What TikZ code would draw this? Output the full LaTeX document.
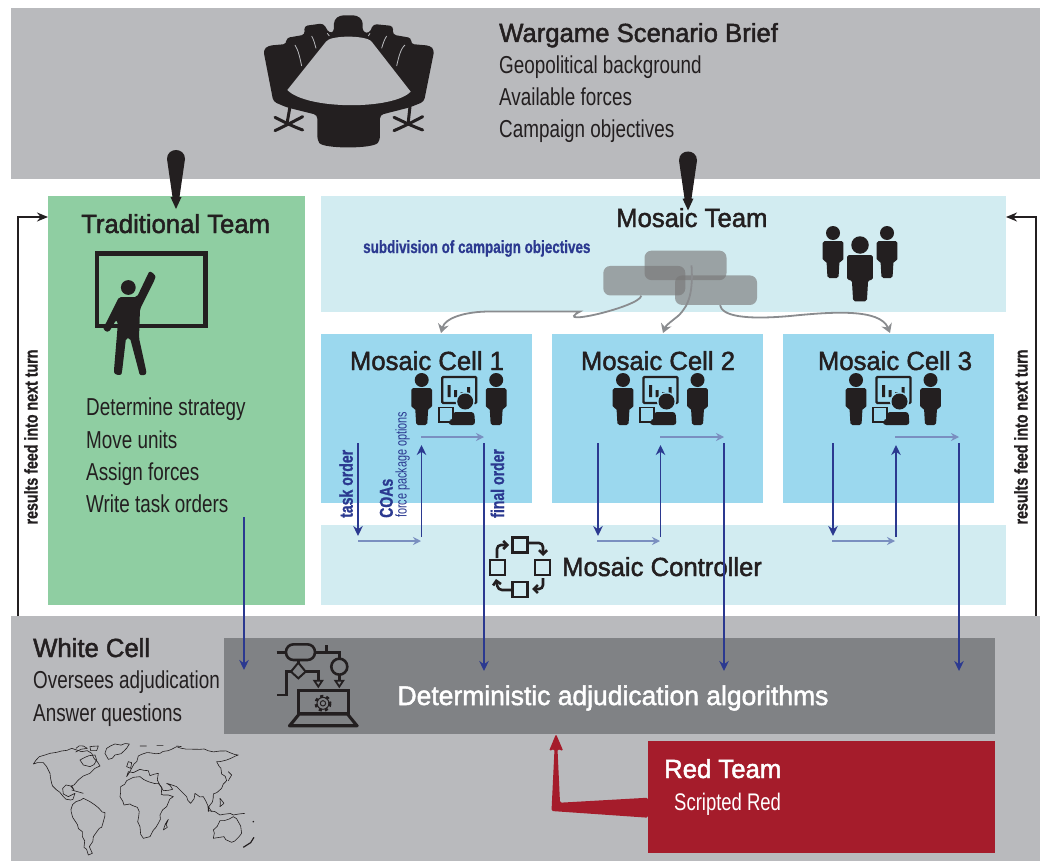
\documentclass[tikz,border=0pt]{standalone}
\usepackage{fontspec}
\usetikzlibrary{arrows.meta,shapes.geometric,decorations.pathmorphing}
\setmainfont{Liberation Sans}
\newfontfamily\headfont[FakeBold=1.8,FakeStretch=0.98]{Liberation Sans}
\newfontfamily\bodyfont[FakeStretch=0.77]{Liberation Sans}
\newfontfamily\condbold[FakeStretch=0.76,FakeBold=0.8]{Liberation Sans Bold}
\newfontfamily\condside[FakeStretch=0.77,FakeBold=0.8]{Liberation Sans Bold}
\newfontfamily\condthin[FakeStretch=0.7]{Liberation Sans}
\definecolor{topgrey}{HTML}{B9BABD}
\definecolor{tradgreen}{HTML}{8FCEA2}
\definecolor{palecyan}{HTML}{D2ECF1}
\definecolor{cellblue}{HTML}{9BD8EE}
\definecolor{darkgrey}{HTML}{808285}
\definecolor{redteam}{HTML}{A51C2B}
\definecolor{navy}{HTML}{2B3990}
\definecolor{lightnavy}{HTML}{7A8FC0}
\definecolor{inkblack}{HTML}{231F20}
\definecolor{connector}{HTML}{8A8C8F}
\definecolor{teamgrey}{HTML}{787676}
\tikzset{
  region/.style={fill=#1,draw=none},
  headtext/.style={font=\headfont\fontsize{26.2}{28}\selectfont,text=inkblack,inner sep=0pt,anchor=base west},
  bodytext/.style={font=\bodyfont\fontsize{24.5}{27}\selectfont,text=inkblack,inner sep=0pt,anchor=base west},
  sidelabel/.style={font=\condside\fontsize{18.5}{20}\selectfont,text=inkblack,inner sep=0pt,rotate=90},
  ordertext/.style={font=\condbold\fontsize{18.5}{20}\selectfont,text=navy,inner sep=0pt,rotate=90,anchor=base west},
  thintext/.style={font=\condthin\fontsize{15.5}{18}\selectfont,text=navy,inner sep=0pt,rotate=90,anchor=base west},
  order/.style={draw=navy,line width=1.8pt,-{Stealth[length=10pt,width=9.5pt]}},
  flow/.style={draw=lightnavy,line width=1.8pt,-{Stealth[length=8pt,width=8pt]}},
  feed/.style={draw=inkblack,line width=1.6pt,-{Stealth[length=11pt,width=9pt]}},
  split/.style={draw=connector,line width=1.8pt,-{Stealth[length=9pt,width=11pt,inset=3pt]}},
  team/.style={rounded corners=7pt,fill=teamgrey,fill opacity=.62,draw=none},
  personpic/.pic={
    \fill[inkblack] (0,0) circle (7);
    \fill[inkblack,rounded corners=1.8pt] (-10.3,8) -- (10.3,8) -- (10.3,28) -- (6.5,28) -- (5.5,45) -- (-5.5,45) -- (-6.5,28) -- (-10.3,28) -- cycle;
  },
  cellicon/.pic={
    \pic at (0,0) {personpic};
    \pic at (74.5,0) {personpic};
    \draw[inkblack,line width=2.2pt,rounded corners=1pt] (20.5,-3) rectangle (54.5,23);
    \fill[inkblack] (26,5) rectangle (29,17) (32.5,10) rectangle (35.5,17) (39,12) rectangle (42,17) (45.5,7) rectangle (48.5,17);
    \fill[cellblue] (43.5,21.5) circle (9.6);
    \fill[inkblack] (43.5,21.5) circle (8);
    \draw[inkblack,line width=1.6pt,fill=cellblue] (17,27.5) rectangle (31,42);
    \fill[inkblack,rounded corners=3pt] (31,32) -- (52.5,32) -- (53.5,45) -- (27,45) -- (27,40) -- (31,40) -- cycle;
  },
  coast/.style={decorate,decoration={random steps,segment length=5pt,amplitude=1.6pt}},
}
\pgfmathsetseed{7}
\begin{document}
\begin{tikzpicture}[x=1pt,y=-1pt]
\useasboundingbox (0,0) rectangle (1040,861);
\fill[white] (0,0) rectangle (1040,861);

% regions
\fill[region=topgrey] (11,8) rectangle (1040,179);
\fill[region=topgrey] (11,616) rectangle (1040,861);
\fill[region=tradgreen] (48,196) rectangle (305,605);
\fill[region=palecyan] (321,196) rectangle (1006,312);
\fill[region=palecyan] (321,525) rectangle (1006,605);
\fill[region=cellblue] (321,334) rectangle (532,503);
\fill[region=cellblue] (552,334) rectangle (763,503);
\fill[region=cellblue] (783,334) rectangle (994,503);
\fill[region=darkgrey] (224,638) rectangle (995,734);
\fill[region=redteam] (648,741) rectangle (995,853);

% named anchors
\coordinate (c1n) at (441,333);
\coordinate (c2n) at (663,333);
\coordinate (c3n) at (890,333);
\coordinate (leftStart) at (18,616);
\coordinate (leftEnd) at (48,217);
\coordinate (rightStart) at (1036,616);
\coordinate (rightEnd) at (1006,217);

% conference table icon
\begin{scope}[shift={(240,0)},x=0.3333pt,y=-0.3333pt]
  \fill[inkblack,rounded corners=3.5pt] (100,305) -- (70,150) -- (85,137) -- (140,132) -- (138,114) -- (195,104) -- (192,78) -- (250,70) -- (268,100) -- (282,96) -- (282,60) -- (300,46) -- (350,46) -- (368,60) -- (368,96) -- (388,100) -- (400,72) -- (460,78) -- (458,104) -- (515,114) -- (512,132) -- (570,137) -- (583,150) -- (552,305) -- (510,322) -- (420,345) -- (420,420) .. controls (400,447) and (250,447) .. (232,420) -- (232,345) -- (140,322) -- cycle;
  \fill[topgrey] (142,270) -- (258,125) .. controls (270,105) and (380,105) .. (395,125) -- (512,275) .. controls (460,330) and (200,330) .. (142,270) -- cycle;
  \draw[topgrey,line width=.8pt] (165,135) .. controls (175,150) and (180,175) .. (185,198);
  \draw[topgrey,line width=.8pt] (215,108) .. controls (222,120) and (225,135) .. (228,145);
  \draw[topgrey,line width=.8pt] (262,100) -- (268,108);
  \draw[topgrey,line width=.8pt] (495,135) .. controls (482,145) and (475,175) .. (470,198);
  \draw[topgrey,line width=.8pt] (440,108) .. controls (432,120) and (428,135) .. (425,145);
  \draw[topgrey,line width=.8pt] (390,100) -- (385,108);
  \begin{scope}[inkblack,line width=3pt,line cap=round]
    \draw (150,320) -- (142,365);
    \draw (105,352) .. controls (130,365) and (160,380) .. (188,390);
    \draw (105,392) .. controls (130,380) and (160,365) .. (188,350);
    \draw (510,320) -- (505,365);
    \draw (462,352) .. controls (490,365) and (520,380) .. (548,390);
    \draw (462,392) .. controls (490,380) and (520,365) .. (548,350);
  \end{scope}
\end{scope}

% top text
\node[headtext] (scen) at (499,42) {Wargame Scenario Brief};
\node[bodytext] (geo) at (499,74) {Geopolitical background};
\node[bodytext] (forces) at (499,106) {Available forces};
\node[bodytext] (objs) at (499,138) {Campaign objectives};

% teardrop arrows
\foreach \cx/\dy in {176/0,688/1.5}{
  \fill[inkblack,yshift=-\dy pt] (\cx-9,159) .. controls (\cx-9,147) and (\cx+9,147) .. (\cx+9,159) -- (\cx+3.5,197) -- (\cx+5.5,197) -- (\cx,209) -- (\cx-5.5,197) -- (\cx-3.5,197) -- cycle;
}

% traditional team
\node[headtext] (trad) at (81,233) {Traditional Team};
\draw[inkblack,line width=4.6pt] (97,253.5) rectangle (205.5,326);
\begin{scope}[inkblack]
  \fill (128.3,287.5) circle (7.4);
  \fill[rounded corners=2pt] (119,297) -- (137,297) -- (148,274) .. controls (150,270) and (156,275) .. (155,279) -- (140,309) -- (139,338) -- (146,370) .. controls (147,376) and (140,376) .. (139,372) -- (130,338) -- (126,338) -- (122,372) .. controls (121,376) and (114,375) .. (114,370) -- (118,322) -- (116,320) -- (111,329) .. controls (107,334) and (102,329) .. (105,325) -- cycle;
\end{scope}
\node[bodytext] (t1) at (86,415) {Determine strategy};
\node[bodytext] (t2) at (86,448) {Move units};
\node[bodytext] (t3) at (86,480) {Assign forces};
\node[bodytext] (t4) at (86,512) {Write task orders};

% mosaic team
\node[headtext] (mteam) at (616,227) {Mosaic Team};
\node[font=\condbold\fontsize{17.7}{19}\selectfont,text=navy,inner sep=0pt,anchor=base west] (subdiv) at (363,253) {subdivision of campaign objectives};
\pic at (833,233) {personpic};
\pic[scale=1.25] at (860,245) {personpic};
\pic at (887,233) {personpic};
\node[team,minimum width=82pt,minimum height=29.5pt,inner sep=0] (boxA) at (644.3,280.7) {};
\node[team,minimum width=82pt,minimum height=29.5pt,inner sep=0] (boxB) at (685.5,265.4) {};
\node[team,minimum width=82pt,minimum height=29.5pt,inner sep=0] (boxC) at (716,290.2) {};
\draw[split] (boxA.south) ++(-3,0) .. controls +(-1,11) and +(-30,16) .. (580,311.5) -- (490,311.5) .. controls (465,311.5) and (445,318) .. (c1n);
\draw[split] ([xshift=6]boxB.center) .. controls (693,290) and (690,305) .. (678,316) .. controls (672,321) and (666,325) .. (c2n);
\draw[split] (boxC.south) ++(4,0) .. controls (722,316) and (745,320) .. (790,316) .. controls (830,312) and (880,308) .. (c3n);

% cells
\node[headtext,anchor=base] (cellA) at (427,370) {Mosaic Cell 1};
\node[headtext,anchor=base] (cellB) at (658,370) {Mosaic Cell 2};
\node[headtext,anchor=base] (cellC) at (895,370) {Mosaic Cell 3};
\pic at (421.7,380) {cellicon};
\pic at (623,380) {cellicon};
\pic at (856,380) {cellicon};

% controller
\node[headtext] (ctrl) at (562,576) {Mosaic Controller};
\begin{scope}[inkblack,line width=2.6pt]
  \draw (512.5,537.5) rectangle (527.5,552.5);
  \draw (535,560) rectangle (550,575);
  \draw (512.5,582) rectangle (527.5,597);
  \draw (490,560) rectangle (505,575);
  \begin{scope}[-{Straight Barb[length=4pt,width=8pt]},rounded corners=4pt]
    \draw (529,543) -- (543,543) -- (543,556);
    \draw (543,578) -- (543,589) -- (532,589);
    \draw (511,590) -- (498,590) -- (496,579);
    \draw (497,558) -- (497,545) -- (509,545);
  \end{scope}
\end{scope}

% white cell
\node[headtext] (white) at (33,657) {White Cell};
\node[bodytext] (w1) at (33,688) {Oversees adjudication};
\node[bodytext] (w2) at (33,721) {Answer questions};

% adjudication
\node[headtext,text=white,anchor=base,font=\headfont\fontsize{27}{29}\selectfont] (adj) at (613,705) {Deterministic adjudication algorithms};

% flowchart/laptop icon
\begin{scope}[shift={(0,620)},x=0.3333pt,y=-0.3333pt,inkblack]
  \begin{scope}[line width=2.6pt]
  \draw (830,97) -- (858,97);
  \draw[rounded corners=7.5pt] (858,73) rectangle (945,120);
  \draw (945,97) -- (1018,97) -- (1018,116);
  \draw (980,75) -- (980,97);
  \draw (1018,140) circle (24);
  \draw (1018,164) -- (1018,180);
  \draw[line width=1.8pt] (1006,182) -- (1030,182) -- (1018,200) -- cycle;
  \draw[line width=2pt] (895,128) -- (917,155) -- (895,175) -- (873,155) -- cycle;
  \draw (895,120) -- (895,130);
  \draw (917,155) -- (955,155) -- (955,180);
  \draw[line width=1.8pt] (943,182) -- (967,182) -- (955,200) -- cycle;
  \draw (873,155) -- (860,155) -- (860,225) -- (830,225);
  \draw[line width=3pt] (895,210) rectangle (1045,282);
  \fill (895,278) -- (1045,278) -- (1076,316) .. controls (1076,322) and (1074,322) .. (1070,322) -- (870,322) .. controls (866,322) and (864,322) .. (864,316) -- cycle;
  \fill[darkgrey] (900,287) -- (1040,287) -- (1060,312) -- (880,312) -- cycle;
  \draw[line width=1pt] (969,250) circle (8);
  \draw[line width=1pt] (969,250) circle (18);
  \draw[line width=3pt,dash pattern=on 3pt off 3pt] (969,250) circle (21);
  \end{scope}
\end{scope}

% world map
\begin{scope}[shift={(0,620)},x=0.3333pt,y=-0.3333pt,draw=inkblack,line width=.6pt,line join=round]
  \draw[coast] (100,432) -- (118,410) -- (135,405) -- (150,400) -- (170,397) -- (185,393) -- (215,385) -- (245,395) -- (262,392) -- (275,400) -- (282,415) -- (292,425) -- (300,438) -- (285,445) -- (270,460) -- (250,468) -- (235,480) -- (222,495) -- (215,497) -- (222,510) -- (212,498) -- (198,495) -- (188,505) -- (190,522) -- (205,530) -- (225,520) -- (212,540) -- (190,530) -- (170,510) -- (155,490) -- (150,460) -- (140,440) -- (130,428) -- (112,428) -- cycle;
  \draw[coast] (315,400) -- (320,385) -- (345,372) -- (388,372) -- (372,393) -- (345,405) -- (325,418) -- cycle;
  \draw[coast] (240,420) -- (255,412) -- (285,405) -- (290,420) -- (270,440) -- (250,435) -- cycle;
  \draw[coast] (228,545) -- (250,535) -- (270,545) -- (285,555) -- (315,578) -- (310,605) -- (298,625) -- (280,650) -- (268,680) -- (277,700) -- (265,705) -- (252,682) -- (247,635) -- (218,592) -- (213,568) -- cycle;
  \draw[coast] (380,482) -- (400,472) -- (420,470) -- (445,485) -- (475,490) -- (490,525) -- (520,530) -- (500,560) -- (480,585) -- (475,610) -- (450,650) -- (430,655) -- (420,620) -- (412,562) -- (390,552) -- (372,555) -- (360,530) -- (362,500) -- cycle;
  \draw[coast] (380,470) -- (385,455) -- (400,458) -- (420,448) -- (445,452) -- (450,467) -- (475,460) -- (472,480) -- (490,512) -- (518,508) -- (500,490) -- (530,500) -- (545,515) -- (560,530) -- (572,550) -- (585,520) -- (610,530) -- (625,575) -- (640,522) -- (665,505) -- (680,482) -- (665,462) -- (658,440) -- (650,425) -- (680,420) -- (715,405) -- (690,398) -- (660,393) -- (600,388) -- (530,380) -- (505,392) -- (480,400) -- (440,398) -- (415,408) -- (402,432) -- cycle;
  \draw[coast] (385,425) -- (395,428) -- (392,445) -- (380,440) -- cycle;
  \draw[coast] (490,630) -- (505,598) -- (502,622) -- cycle;
  \draw[coast] (640,630) -- (660,602) -- (688,597) -- (700,590) -- (722,618) -- (725,640) -- (695,667) -- (672,650) -- (640,655) -- cycle;
  \draw[line width=1.2pt] (730,682) -- (752,668) -- (762,652);
  \draw[coast] (685,455) -- (695,465) -- (685,482);
  \draw[coast] (625,572) -- (660,585) -- (700,585) -- (735,580);
  \draw[coast] (660,535) -- (672,550) -- (660,560) -- cycle;
  \draw[coast] (228,385) -- (250,378) -- (262,385) -- (240,392) -- cycle;
  \draw[coast] (270,380) -- (295,378) -- (290,392) -- (272,392) -- cycle;
  \draw (625,560) -- (635,575);
  \draw (215,510) -- (250,520);
  \draw (420,378) -- (440,378) (470,376) -- (490,376) (530,378) -- (545,380);
  \draw[fill=inkblack] (760,605) circle (1.5);
\end{scope}

% red team
\node[headtext,text=white] (red) at (664,778) {Red Team};
\node[bodytext,text=white,font=\bodyfont\fontsize{24}{26}\selectfont] (scripted) at (674,810) {Scripted Red};
\fill[redteam,rounded corners=1.5pt] (648,797.7) -- (560,802.7) -- (557.5,749) -- (563.3,751) -- (556,734) -- (549,751) -- (554.5,749) -- (551.5,811) -- (648,817.7) -- cycle;

% order arrows
\coordinate (a1) at (358,443); \coordinate (a2) at (358,536);
\coordinate (a3) at (358,541); \coordinate (a4) at (421,541);
\coordinate (a5) at (421.5,537); \coordinate (a6) at (421.5,445);
\coordinate (a7) at (421,437); \coordinate (a8) at (484,437);
\coordinate (a9) at (484,443); \coordinate (a10) at (484,671);
\draw[order] (a1) -- (a2);
\draw[flow] (a3) -- (a4);
\draw[order] (a5) -- (a6);
\draw[flow] (a7) -- (a8);
\draw[order] (a9) -- (a10);
\draw[order] (598,443) -- (598,536);
\draw[flow] (597,541) -- (660,541);
\draw[order] (660.5,537) -- (660.5,445);
\draw[flow] (660,437) -- (724,437);
\draw[order] (724,443) -- (724,671);
\draw[order] (833,443) -- (833,536);
\draw[flow] (832,541) -- (895,541);
\draw[order] (896,537) -- (896,445);
\draw[flow] (895,437) -- (959,437);
\draw[order] (959,443) -- (959,671);
\draw[order] (244,517) -- (244,670);
\node[ordertext] (lab1) at (352.7,518) {task order};
\node[ordertext] (lab2) at (392.7,518) {COAs};
\node[thintext] (lab3) at (406.5,518) {force package options};
\node[ordertext] (lab4) at (504,518) {final order};

% results feed arrows
\draw[feed] (leftStart) -- (18,217) -- (leftEnd);
\draw[feed] (rightStart) -- (1036,217) -- (rightEnd);
\node[sidelabel] (resL) at (31,437) {results feed into next turn};
\node[sidelabel] (resR) at (1021,437) {results feed into next turn};
\end{tikzpicture}
\end{document}
